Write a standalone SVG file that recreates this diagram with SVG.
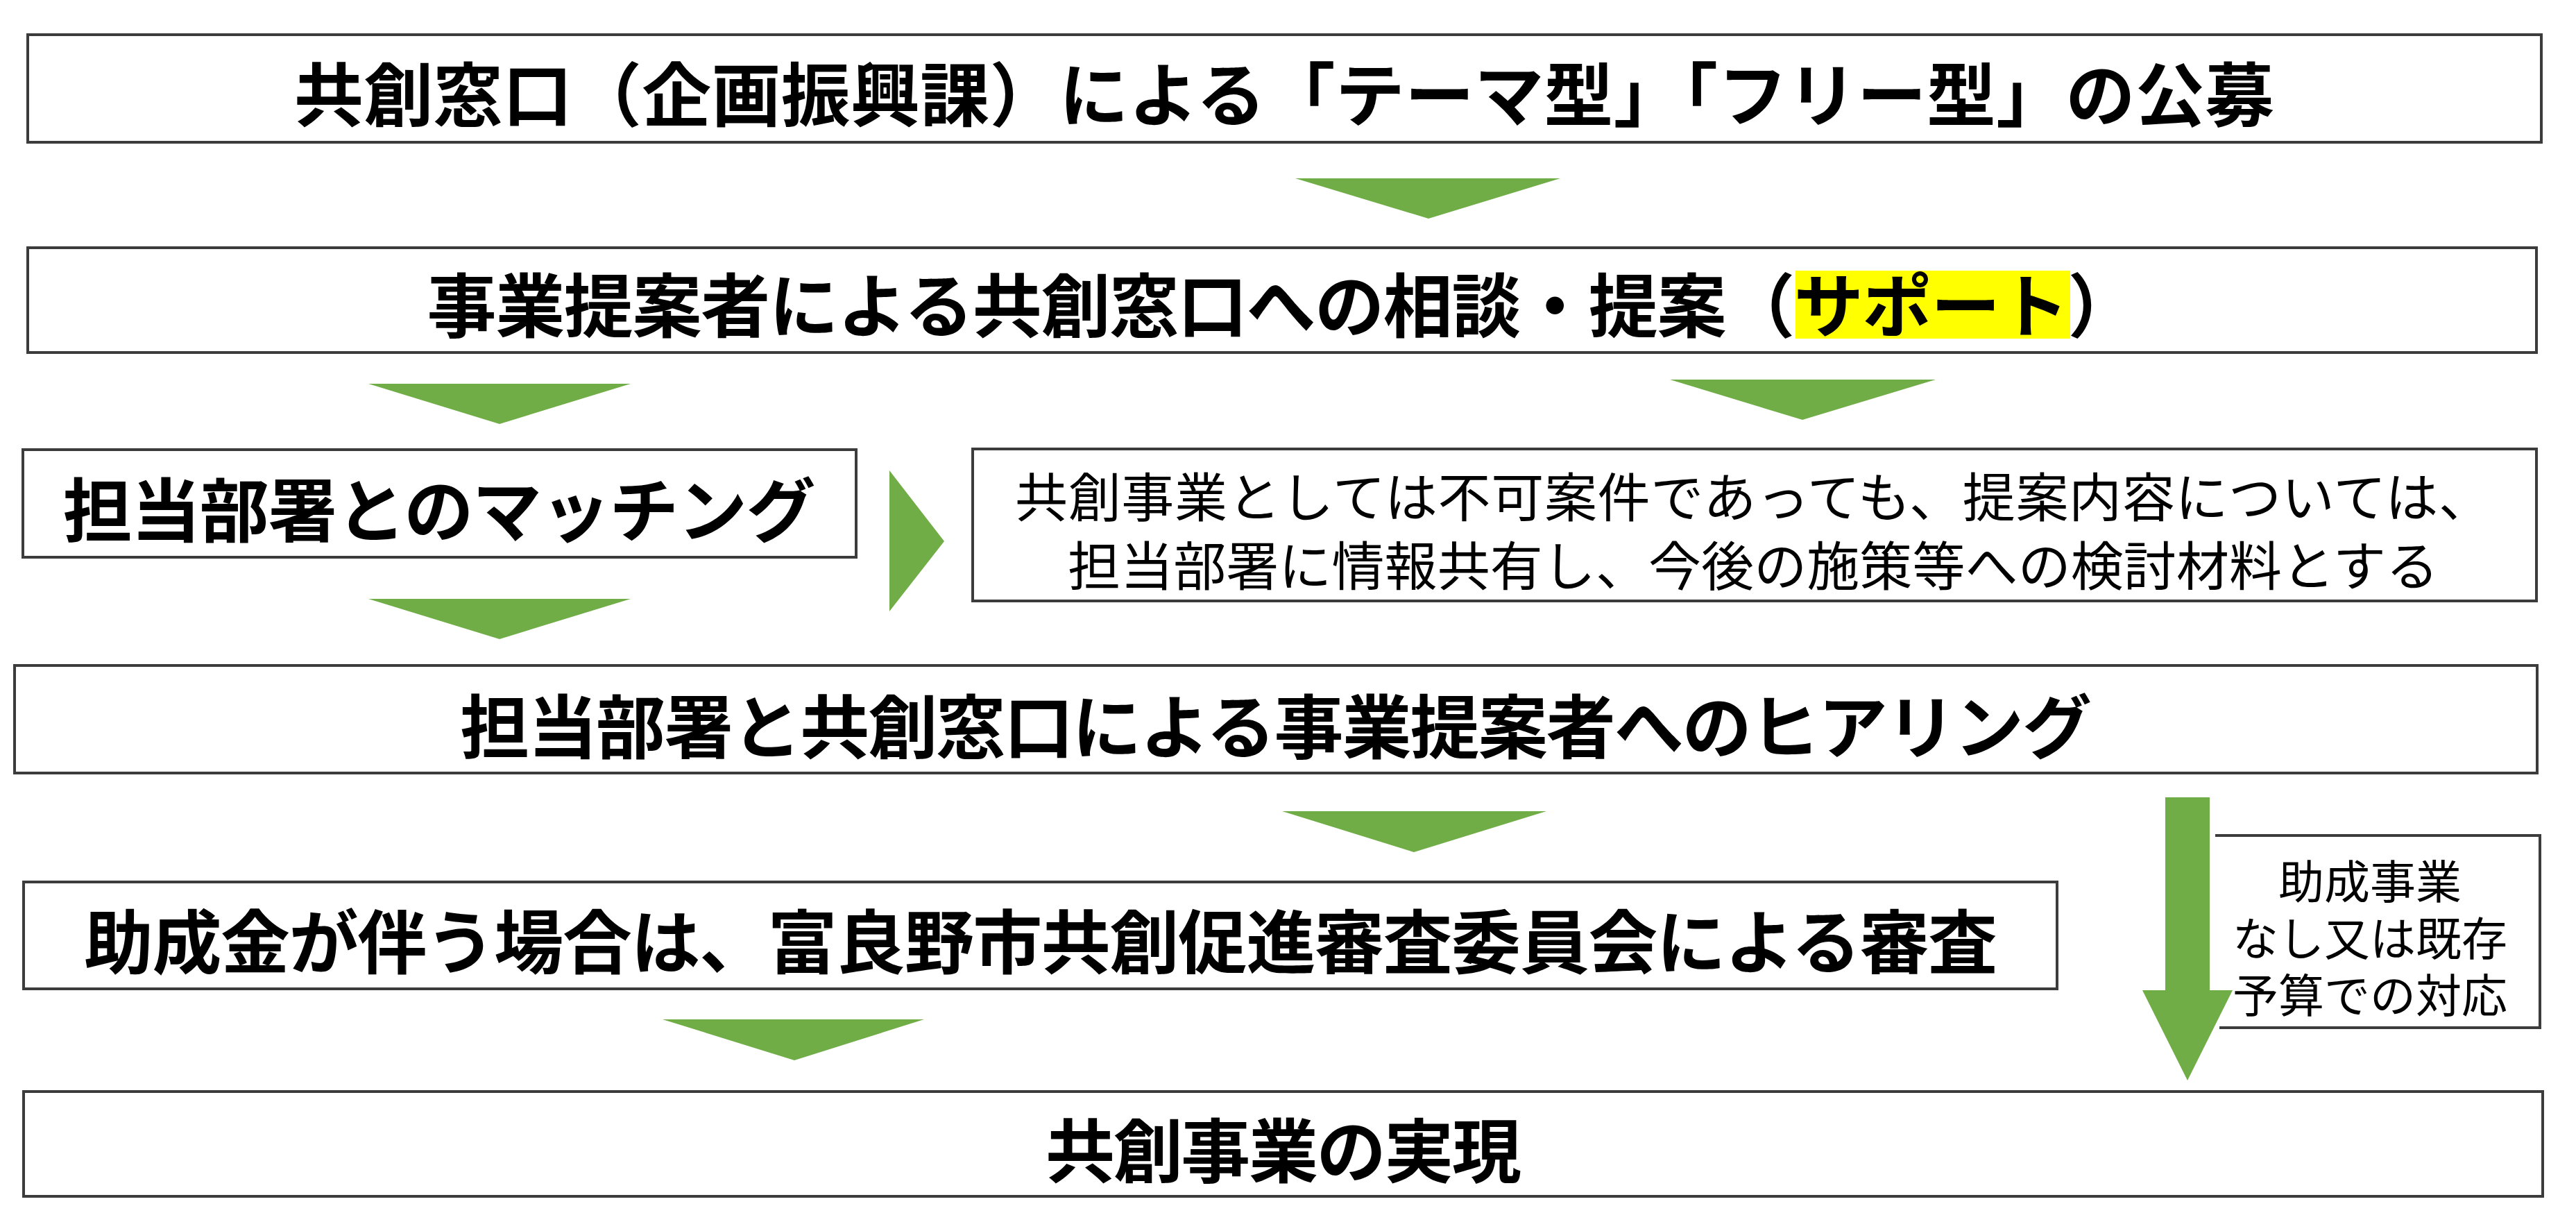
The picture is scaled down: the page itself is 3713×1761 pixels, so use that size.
<svg xmlns="http://www.w3.org/2000/svg" width="3713" height="1761" viewBox="0 0 3713 1761">
<style>
.box{fill:#ffffff;stroke:#3c3c3c;stroke-width:4}
.t{font-family:"Liberation Sans","Noto Sans CJK JP","Noto Sans CJK SC",sans-serif;fill:#000000;text-anchor:middle}
.big{font-size:100px;font-weight:bold}
.mid{font-size:76px;font-weight:normal}
.sm{font-size:66px;font-weight:normal}
.arr{fill:#70AD47}
</style>
<rect width="3713" height="1761" fill="#ffffff"/>
<g id="node1">
<rect class="box" x="40" y="50" width="3623" height="155"/>
<text class="t big" x="1851" y="174" textLength="2854" lengthAdjust="spacing">共創窓口（企画振興課）による「テーマ型」「フリー型」の公募</text>
</g>
<g id="node2">
<rect class="box" x="40" y="357" width="3616" height="151"/>
<rect x="2588" y="390" width="396" height="98" fill="#ffff00"/>
<text class="t big" x="1848" y="478" textLength="2465" lengthAdjust="spacing">事業提案者による共創窓口への相談・提案（サポート）</text>
</g>
<g id="node3">
<rect class="box" x="33" y="648" width="1201" height="155"/>
<text class="t big" x="633" y="773" textLength="1085" lengthAdjust="spacing">担当部署とのマッチング</text>
</g>
<g id="node4">
<rect class="box" x="1402" y="647" width="2254" height="219"/>
<text class="t mid" x="2527" y="745" textLength="2128" lengthAdjust="spacing">共創事業としては不可案件であっても、提案内容については、</text>
<text class="t mid" x="2527" y="844" textLength="1976" lengthAdjust="spacing">担当部署に情報共有し、今後の施策等への検討材料とする</text>
</g>
<g id="node5">
<rect class="box" x="21" y="959" width="3636" height="155"/>
<text class="t big" x="1839" y="1085" textLength="2352" lengthAdjust="spacing">担当部署と共創窓口による事業提案者へのヒアリング</text>
</g>
<g id="node6">
<rect class="box" x="34" y="1271" width="2931" height="154"/>
<text class="t big" x="1500" y="1395" textLength="2758" lengthAdjust="spacing">助成金が伴う場合は、富良野市共創促進審査委員会による審査</text>
</g>
<g id="node7">
<rect class="box" x="34" y="1573" width="3631" height="151"/>
<text class="t big" x="1850" y="1696" textLength="686" lengthAdjust="spacing">共創事業の実現</text>
</g>
<g id="node8">
<path d="M3193,1204 H3661 V1481 H3199" fill="#ffffff" stroke="#3c3c3c" stroke-width="4"/>
<text class="t sm" x="3416" y="1295" textLength="264" lengthAdjust="spacing">助成事業</text>
<text class="t sm" x="3416" y="1377" textLength="396" lengthAdjust="spacing">なし又は既存</text>
<text class="t sm" x="3416" y="1459" textLength="396" lengthAdjust="spacing">予算での対応</text>
</g>
<g id="connectors">
<polygon class="arr" points="1867,257 2249,257 2059,315"/>
<polygon class="arr" points="531,553 909,553 720,611"/>
<polygon class="arr" points="2407,547 2790,547 2598,605"/>
<polygon class="arr" points="1282,678 1282,881 1361,780"/>
<polygon class="arr" points="531,863 909,863 720,921"/>
<polygon class="arr" points="1848,1169 2229,1169 2038,1228"/>
<polygon class="arr" points="955,1469 1332,1469 1145,1528"/>
<polygon class="arr" points="3121,1149 3185,1149 3185,1427 3218,1427 3153,1557 3088,1427 3121,1427"/>
</g>
</svg>
